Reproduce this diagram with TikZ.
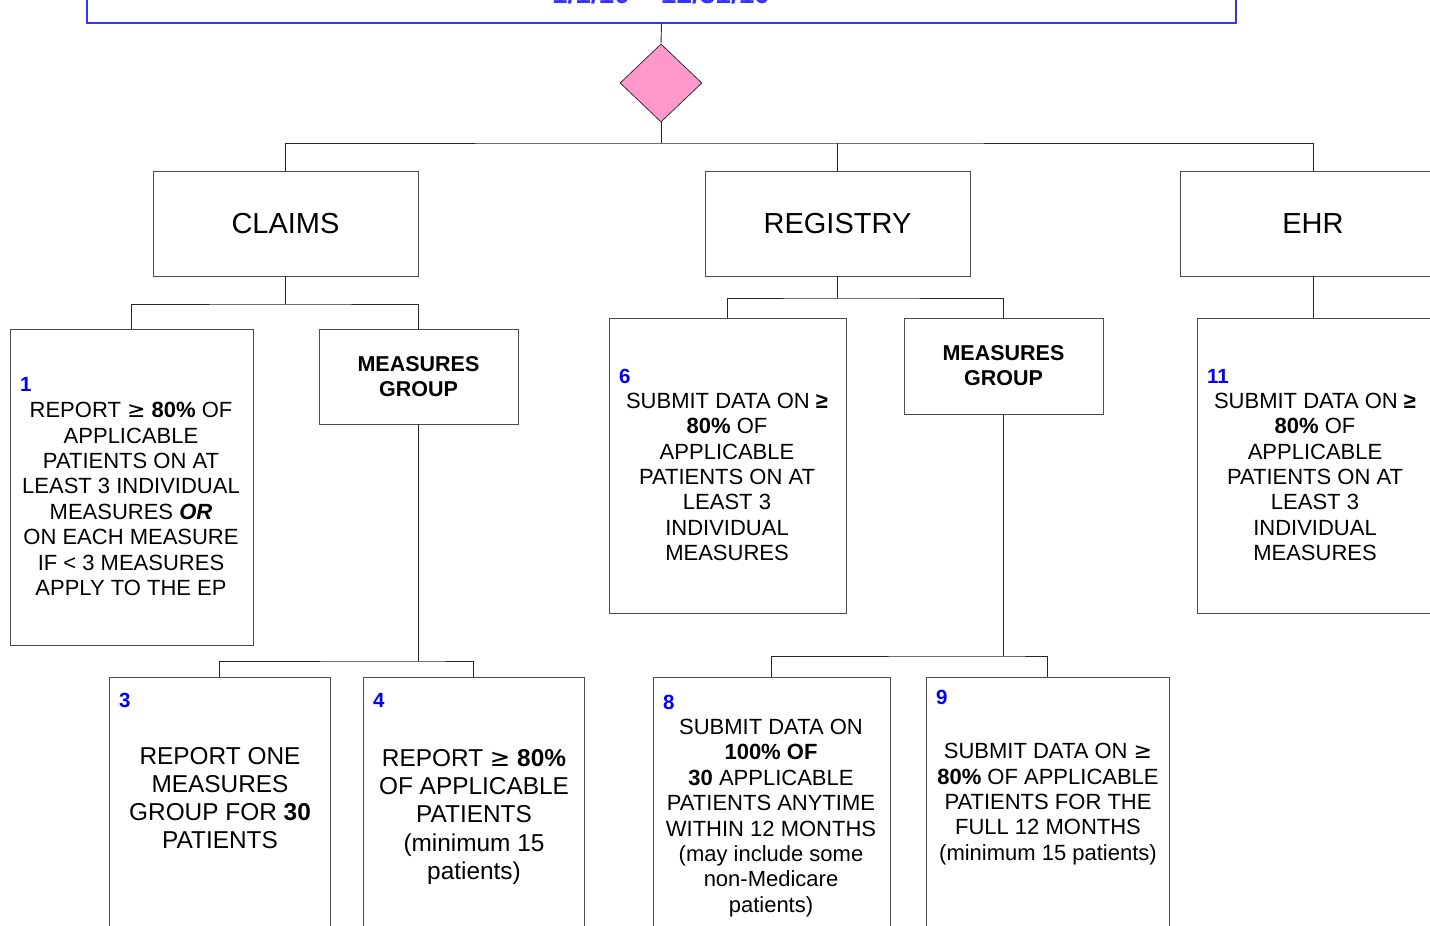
\documentclass[tikz,border=0pt]{standalone}
\usepackage{fontspec}
\setmainfont{Liberation Sans}
\newfontfamily\symfnt{DejaVu Sans}
\newcommand{\mygeq}{{\symfnt ≥}}
\usetikzlibrary{shapes.geometric}
\definecolor{pinkfill}{HTML}{FF99CC}
\definecolor{topblue}{HTML}{3333FF}
\tikzset{
  box/.style={draw=black!70, line width=0.9pt, fill=white, inner sep=0pt},
  conn/.style={draw=black!85, line width=0.9pt},
  num/.style={font=\fontsize{20.5}{20}\selectfont\bfseries, text=blue, anchor=base west, inner sep=0pt},
  txtA/.style={font=\fontsize{22}{25.4}\selectfont, align=center, inner sep=0pt},
  txtB/.style={font=\fontsize{24.4}{28.2}\selectfont, align=center, inner sep=0pt},
  head/.style={box, font=\fontsize{29}{32}\selectfont},
  mg/.style={box, font=\fontsize{21.5}{25}\selectfont\bfseries, align=center},
}
\begin{document}
\begin{tikzpicture}[x=1pt,y=-1pt]
\useasboundingbox (0,0) rectangle (1430,926);
\clip (0,0) rectangle (1430,926);
% top box
\node[draw=topblue, line width=1.2pt, fill=white, minimum width=1149pt, minimum height=103pt, inner sep=0pt] (top) at (661.5,-28.5) {};
\node[font=\fontsize{28}{30}\selectfont\bfseries, text=topblue, anchor=base, inner sep=0pt] (toptxt) at (661,4) {1/1/10 -- 12/31/10};
% diamond
\node[diamond, draw=black!80, line width=0.8pt, fill=pinkfill, minimum width=82pt, minimum height=78pt, inner sep=0pt] (dia) at (661,83) {};
% level 1
\node[head, minimum width=265pt, minimum height=105pt] (claims) at (285.5,223.5) {CLAIMS};
\node[head, minimum width=265pt, minimum height=105pt] (reg) at (837.5,223.5) {REGISTRY};
\node[head, minimum width=266pt, minimum height=105pt] (ehr) at (1313,223.5) {EHR};
% level 2
\node[box, minimum width=243pt, minimum height=316pt] (b1) at (131.5,487) {};
\node[mg, minimum width=199pt, minimum height=95pt] (mg1) at (418.5,376.5) {MEASURES\\GROUP};
\node[box, minimum width=237pt, minimum height=295pt] (b6) at (727.5,465.5) {};
\node[mg, minimum width=199pt, minimum height=96pt] (mg2) at (1003.5,366) {MEASURES\\GROUP};
\node[box, minimum width=263pt, minimum height=295pt] (b11) at (1328.5,465.5) {};
% level 3
\node[box, minimum width=221pt, minimum height=323pt] (b3) at (219.5,838.5) {};
\node[box, minimum width=221pt, minimum height=323pt] (b4) at (473.5,838.5) {};
\node[box, minimum width=237pt, minimum height=323pt] (b8) at (771.5,838.5) {};
\node[box, minimum width=243pt, minimum height=323pt] (b9) at (1047.5,838.5) {};
% connectors
\coordinate (j0) at (661,143);
\draw[conn] (top.south) -- (dia.north);
\draw[conn] (dia.south) -- (j0);
\draw[conn] (claims.north) |- (j0) -| (ehr.north);
\draw[conn] (j0 -| reg.north) -- (reg.north);
\coordinate (j1) at (285.5,304);
\draw[conn] (claims.south) -- (j1);
\draw[conn] (b1.north) |- (j1) -| (mg1.north);
\coordinate (j2) at (418.5,661);
\draw[conn] (mg1.south) -- (j2);
\draw[conn] (b3.north) |- (j2) -| (b4.north);
\coordinate (j3) at (837.5,298);
\draw[conn] (reg.south) -- (j3);
\draw[conn] (b6.north) |- (j3) -| (mg2.north);
\coordinate (j4) at (1003.5,656);
\draw[conn] (mg2.south) -- (j4);
\draw[conn] (b8.north) |- (j4) -| (b9.north);
\draw[conn] (ehr.south) -- (ehr.south |- b11.north);
% numbers
\node[num] (n1) at (20,391) {1};
\node[num] (n3) at (119,707) {3};
\node[num] (n4) at (373,707) {4};
\node[num] (n6) at (619,383) {6};
\node[num] (n8) at (663,709) {8};
\node[num] (n9) at (936,704) {9};
\node[num] (n11) at (1207,383) {11};
% texts
\node[txtA] (t1) at (131,499) {REPORT \mygeq\ \textbf{80\%} OF\\APPLICABLE\\PATIENTS ON AT\\LEAST 3 INDIVIDUAL\\MEASURES \textbf{\textit{OR}}\\ON EACH MEASURE\\IF < 3 MEASURES\\APPLY TO THE EP};
\node[txtA] (t6) at (727,477) {SUBMIT DATA ON \textbf{≥}\\\textbf{80\%} OF\\APPLICABLE\\PATIENTS ON AT\\LEAST 3\\INDIVIDUAL\\MEASURES};
\node[txtA] (t11) at (1315,477) {SUBMIT DATA ON \textbf{≥}\\\textbf{80\%} OF\\APPLICABLE\\PATIENTS ON AT\\LEAST 3\\INDIVIDUAL\\MEASURES};
\node[txtB] (t3) at (220,798) {REPORT ONE\\MEASURES\\GROUP FOR \textbf{30}\\PATIENTS};
\node[txtB] (t4) at (474,817) {REPORT \mygeq\ \textbf{80\%}\\OF APPLICABLE\\PATIENTS\\(minimum 15\\patients)};
\node[txtA] (t8) at (771,818) {SUBMIT DATA ON\\\textbf{100\% OF}\\\textbf{30} APPLICABLE\\PATIENTS ANYTIME\\WITHIN 12 MONTHS\\(may include some\\non-Medicare\\patients)};
\node[txtA] (t9) at (1048,804) {SUBMIT DATA ON \mygeq\\\textbf{80\%} OF APPLICABLE\\PATIENTS FOR THE\\FULL 12 MONTHS\\(minimum 15 patients)};
\end{tikzpicture}
\end{document}
